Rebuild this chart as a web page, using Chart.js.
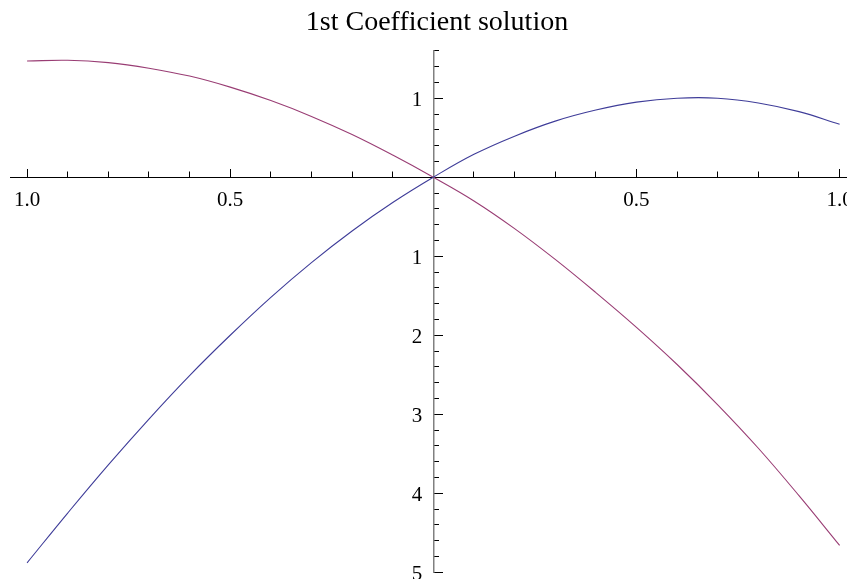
<!DOCTYPE html>
<html>
<head>
<meta charset="utf-8">
<title>1st Coefficient solution</title>
<script src="https://cdn.jsdelivr.net/npm/chart.js@4.4.1/dist/chart.umd.min.js"></script>
<style>
    html, body { margin: 0; padding: 0; background: #fff; overflow: hidden; }
    /* Un poco más ancho que la ventana: el eje X se corta en el borde como en el original */
    #wrap { width: 864px; height: 579px; position: relative; }
    .precarga { font-family: 'Liberation Serif'; position: absolute; left: -999px; }
</style>
</head>
<body>
<span class="precarga">1st Coefficient solution 0.5 1.0</span>
<div id="wrap"><canvas id="grafico"></canvas></div>
<script>
// --- 1. DATOS ---
const xValues    = [-1.0, -0.9, -0.8, -0.7, -0.6, -0.5, -0.4, -0.3, -0.2, -0.1, 0.0, 0.1, 0.2, 0.3, 0.4, 0.5, 0.6, 0.7, 0.8, 0.9, 1.0];
const blueValues = [-4.88, -4.25, -3.64, -3.06, -2.51, -2.00, -1.52, -1.08, -0.68, -0.32, 0.00, 0.29, 0.52, 0.71, 0.85, 0.95, 1.00, 1.00, 0.94, 0.83, 0.67];
const redValues  = [1.47, 1.48, 1.45, 1.38, 1.28, 1.14, 0.97, 0.77, 0.54, 0.28, 0.00, -0.30, -0.65, -1.04, -1.46, -1.90, -2.37, -2.88, -3.43, -4.03, -4.66];

// Etiquetas tal como aparecen (sin signo menos)
const xTickValues = [-1, -0.5, 0.5, 1];
const xTickLabels = ['1.0', '0.5', '0.5', '1.0'];
const yTickValues = [1, -1, -2, -3, -4, -5];
const yTickLabels = ['1', '1', '2', '3', '4', '5'];

const colorAzul = '#3f3d99';
const colorRojo = '#993d74';
const fuenteSerif = "'Liberation Serif', 'Times New Roman', serif";

function buscarEtiqueta(valor, valores, etiquetas) {
    const i = valores.findIndex(v => Math.abs(v - valor) < 1e-6);
    return i >= 0 ? etiquetas[i] : '';
}

// Quitar el padding que Chart.js reserva para las etiquetas extremas
function sinPadding(scale) {
    scale.paddingLeft = 0;
    scale.paddingRight = 0;
    scale.paddingTop = 0;
    scale.paddingBottom = 0;
}

// El eje Y centrado deja las etiquetas pegadas al eje: correrlas a la izquierda
const separarEtiquetasY = {
    id: 'separarEtiquetasY',
    beforeDraw(chart) {
        const items = chart.scales.y.getLabelItems(chart.chartArea);
        if (items._separadas) return;
        items.forEach(it => { it.options.translation[0] -= 11; });
        items._separadas = true;
    }
};

// --- 2. GRÁFICO ---
function crearGrafico() {
    const ctx = document.getElementById('grafico').getContext('2d');

    new Chart(ctx, {
        type: 'line',
        data: {
            datasets: [
                {
                    label: 'azul',
                    data: xValues.map((x, i) => ({ x: x, y: blueValues[i] })),
                    borderColor: colorAzul,
                    borderWidth: 1.1,
                    pointRadius: 0,
                    tension: 0.4,
                    fill: false
                },
                {
                    label: 'rojo',
                    data: xValues.map((x, i) => ({ x: x, y: redValues[i] })),
                    borderColor: colorRojo,
                    borderWidth: 1.1,
                    pointRadius: 0,
                    tension: 0.4,
                    fill: false
                }
            ]
        },
        options: {
            responsive: true,
            maintainAspectRatio: false,
            animation: false,
            layout: {
                padding: { left: 10, right: 0, top: 0, bottom: 6.7 }
            },
            plugins: {
                legend: { display: false },
                tooltip: { enabled: false },
                title: {
                    display: true,
                    text: '1st Coefficient solution',
                    color: '#000',
                    font: { family: fuenteSerif, size: 28, weight: 'normal' },
                    padding: { top: 6, bottom: 11.2 }
                }
            },
            scales: {
                x: {
                    type: 'linear',
                    position: { y: 0 },
                    min: -1.042,
                    max: 1.06,
                    afterFit: sinPadding,
                    border: { display: true, color: '#000', width: 1 },
                    grid: { drawOnChartArea: false, drawTicks: true, tickLength: -9, tickColor: '#000', tickWidth: 1 },
                    ticks: {
                        stepSize: 0.5,
                        includeBounds: false,
                        autoSkip: false,
                        maxRotation: 0,
                        padding: 19.5,
                        color: '#000',
                        font: { family: fuenteSerif, size: 21 },
                        callback: (v) => buscarEtiqueta(v, xTickValues, xTickLabels)
                    }
                },
                x2: {
                    type: 'linear',
                    position: { y: 0 },
                    min: -1.042,
                    max: 1.06,
                    afterFit: sinPadding,
                    border: { display: false },
                    grid: { drawOnChartArea: false, drawTicks: true, tickLength: -5.5, tickColor: '#000', tickWidth: 1 },
                    ticks: { stepSize: 0.1, includeBounds: false, autoSkip: false, display: false }
                },
                y: {
                    type: 'linear',
                    position: { x: 0 },
                    min: -5,
                    max: 1.6,
                    afterFit: sinPadding,
                    border: { display: true, color: '#808080', width: 1.5 },
                    grid: { drawOnChartArea: false, drawTicks: true, tickLength: -10, tickColor: '#000', tickWidth: 1 },
                    ticks: {
                        stepSize: 1,
                        includeBounds: false,
                        autoSkip: false,
                        labelOffset: 2,
                        color: '#000',
                        font: { family: fuenteSerif, size: 21 },
                        callback: (v) => buscarEtiqueta(v, yTickValues, yTickLabels)
                    }
                },
                y2: {
                    type: 'linear',
                    position: { x: 0 },
                    min: -5,
                    max: 1.6,
                    afterFit: sinPadding,
                    border: { display: false },
                    grid: { drawOnChartArea: false, drawTicks: true, tickLength: -6, tickColor: '#000', tickWidth: 1 },
                    ticks: { stepSize: 0.2, includeBounds: false, autoSkip: false, display: false }
                }
            }
        },
        plugins: [separarEtiquetasY]
    });
}

// Esperar la fuente serif antes de dibujar
document.fonts.load("28px 'Liberation Serif'").then(crearGrafico, crearGrafico);
</script>
</body>
</html>
